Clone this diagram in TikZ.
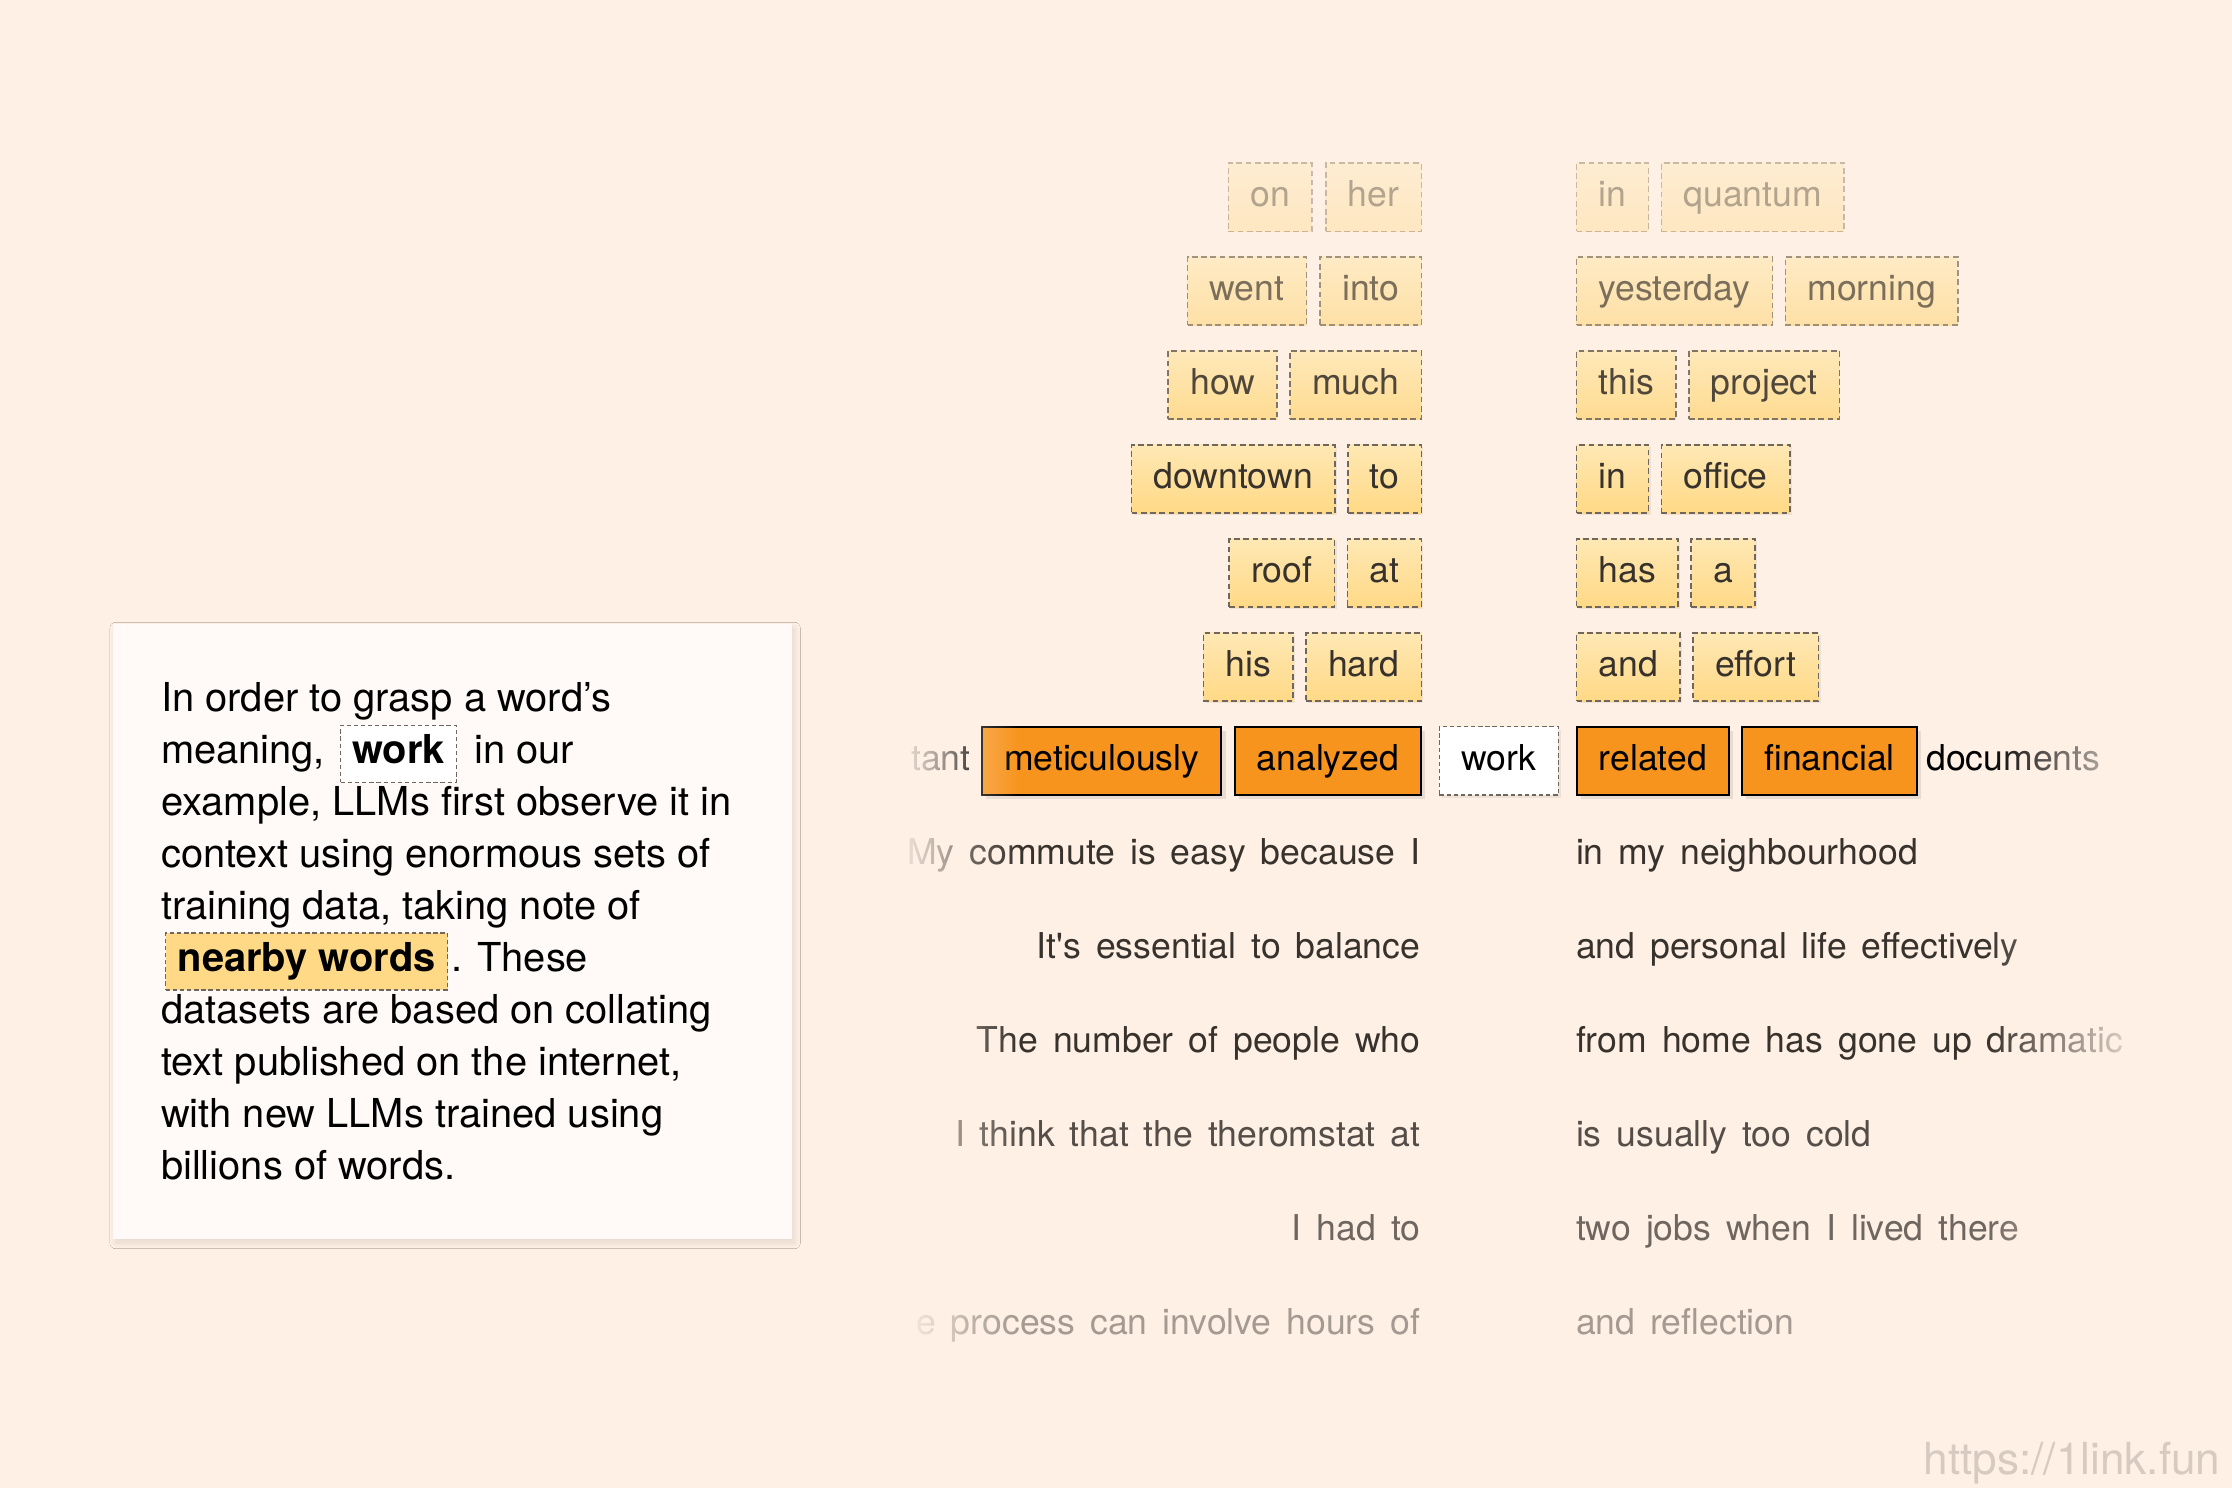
\documentclass[tikz,border=0pt]{standalone}
\usepackage{fontspec}
\setmainfont{TeX Gyre Heros}
\usetikzlibrary{shadows,shadows.blur,fadings}
\definecolor{bg}{HTML}{FEF0E5}
\definecolor{panel}{HTML}{FFFAF8}
\definecolor{ctxtop}{HTML}{FFE8B4}
\definecolor{ctxbot}{HTML}{FFD986}
\definecolor{ctxline}{HTML}{6F665E}
\definecolor{hot}{HTML}{F7941D}
\definecolor{ink}{HTML}{38322D}
\definecolor{wm}{HTML}{D6CAC1}
\newcommand\wideSpacing{\spaceskip=10.5pt plus 0pt minus 0pt\relax}
\tikzset{
  tbl/.style={font=\fontsize{25}{30}\selectfont},
  boxgeom/.style={tbl, inner xsep=15.5pt, inner ysep=0pt, text height=18pt, text depth=5pt, minimum height=48pt},
  ctxflat/.style={boxgeom, draw=ctxline, line width=1.1pt, dash pattern=on 4pt off 2.5pt,
    top color=ctxtop, bottom color=ctxbot, text=ink},
  ctxbox/.style={ctxflat, drop shadow={shadow xshift=1.5pt, shadow yshift=-1.5pt, opacity=0.12}},
  hotbox/.style={boxgeom, draw=black, line width=1.4pt, fill=hot, text=black,
    drop shadow={shadow xshift=3pt, shadow yshift=-3pt, opacity=0.18}},
  focusbox/.style={boxgeom, draw=ctxline, line width=1.1pt, dash pattern=on 3pt off 2pt, fill=white, text=black,
    drop shadow={shadow xshift=2pt, shadow yshift=-2pt, opacity=0.12}},
  plain/.style={tbl, text=black, inner sep=0pt},
  sent/.style={tbl, execute at begin node=\wideSpacing, text=ink, inner sep=0pt},
  ptxt/.style={font=\fontsize{28}{36.5}\selectfont, text=black, inner sep=0pt},
  workinl/.style={font=\fontsize{28}{36.5}\selectfont\bfseries, draw=ctxline, line width=0.9pt, dash pattern=on 3pt off 2pt,
    fill=white, inner xsep=8pt, inner ysep=7pt, text height=20pt, text depth=6pt},
  nearinl/.style={font=\fontsize{28}{36.5}\selectfont\bfseries, draw=ctxline, line width=0.9pt, dash pattern=on 3pt off 2pt,
    fill=ctxbot, inner xsep=0pt, inner ysep=7pt, text height=20pt, text depth=6pt, minimum width=198pt},
  panelbox/.style={fill=panel, inner sep=0pt,
    blur shadow={shadow blur steps=10, shadow xshift=2pt, shadow yshift=-3pt, shadow blur radius=4pt, shadow opacity=10}}
}
\begin{document}
\begin{tikzpicture}[x=1pt,y=-1pt]
\fill[bg] (0,0) rectangle (1568,1045.33);
\useasboundingbox (0,0) rectangle (1568,1045.33);

% ---------- text panel ----------
\node[panelbox, minimum width=477pt, minimum height=432pt, anchor=north west] (panel) at (79,438) {};
\node[ptxt, anchor=base west] (p1) at (113,500) {In order to grasp a word’s};
\node[ptxt, anchor=base west] (p2a) at (113,536.5) {meaning,};
\node[workinl, anchor=base west] (p2w) at (239,536.5) {work};
\node[ptxt, anchor=base west] (p2b) at (333,536.5) {in our};
\node[ptxt, anchor=base west] (p3) at (113,573) {example, LLMs first observe it in};
\node[ptxt, anchor=base west] (p4) at (113,609.5) {context using enormous sets of};
\node[ptxt, anchor=base west] (p5) at (113,646) {training data, taking note of};
\node[nearinl, anchor=base west] (p6w) at (116,682.5) {nearby words};
\node[ptxt, anchor=base west] (p6b) at (317,682.5) {. These};
\node[ptxt, anchor=base west] (p7) at (113,719) {datasets are based on collating};
\node[ptxt, anchor=base west] (p8) at (113,755.5) {text published on the internet,};
\node[ptxt, anchor=base west] (p9) at (113,792) {with new LLMs trained using};
\node[ptxt, anchor=base west] (p10) at (113,828.5) {billions of words.};

% ---------- context rows ----------
\begin{scope}[opacity=0.38]
\node[ctxflat, anchor=east] (l1b) at (999,138.5) {her};
\node[ctxflat, anchor=east] (l1a) at ([xshift=-8.5pt]l1b.west) {on};
\node[ctxflat, anchor=west] (r1a) at (1107,138.5) {in};
\node[ctxflat, anchor=west] (r1b) at ([xshift=8pt]r1a.east) {quantum};
\end{scope}
\begin{scope}[opacity=0.66]
\node[ctxflat, anchor=east] (l2b) at (999,204.5) {into};
\node[ctxflat, anchor=east] (l2a) at ([xshift=-8.5pt]l2b.west) {went};
\node[ctxflat, anchor=west] (r2a) at (1107,204.5) {yesterday};
\node[ctxflat, anchor=west] (r2b) at ([xshift=8pt]r2a.east) {morning};
\end{scope}
\begin{scope}[opacity=0.88]
\node[ctxflat, anchor=east] (l3b) at (999,270.5) {much};
\node[ctxflat, anchor=east] (l3a) at ([xshift=-8pt]l3b.west) {how};
\node[ctxflat, anchor=west] (r3a) at (1107,270.5) {this};
\node[ctxflat, anchor=west] (r3b) at ([xshift=8pt]r3a.east) {project};
\end{scope}
\node[ctxbox, anchor=east] (l4b) at (999,336.5) {to};
\node[ctxbox, anchor=east] (l4a) at ([xshift=-8pt]l4b.west) {downtown};
\node[ctxbox, anchor=west] (r4a) at (1107,336.5) {in};
\node[ctxbox, anchor=west] (r4b) at ([xshift=8pt]r4a.east) {office};
\node[ctxbox, anchor=east] (l5b) at (999,402.5) {at};
\node[ctxbox, anchor=east] (l5a) at ([xshift=-8pt]l5b.west) {roof};
\node[ctxbox, anchor=west] (r5a) at (1107,402.5) {has};
\node[ctxbox, anchor=west] (r5b) at ([xshift=8pt]r5a.east) {a};
\node[ctxbox, anchor=east] (l6b) at (999,468.5) {hard};
\node[ctxbox, anchor=east] (l6a) at ([xshift=-8pt]l6b.west) {his};
\node[ctxbox, anchor=west] (r6a) at (1107,468.5) {and};
\node[ctxbox, anchor=west] (r6b) at ([xshift=8pt]r6a.east) {effort};

% ---------- main row ----------
\node[hotbox, anchor=east] (m2) at (999,534.5) {analyzed};
\node[hotbox, anchor=east] (m1) at ([xshift=-8pt]m2.west) {meticulously};
\node[plain, anchor=base east] (m0) at (682,541.5) {tant};
\node[focusbox] (focus) at (1053,534.5) {work};
\node[hotbox, anchor=west] (m3) at (1107,534.5) {related};
\node[hotbox, anchor=west] (m4) at ([xshift=8pt]m3.east) {financial};
\node[plain, anchor=base west] (m5) at (1353,541.5) {documents};

% ---------- sentence rows ----------
\node[sent, anchor=base east] (s1l) at (998,607.5) {My commute is easy because I};
\node[sent, anchor=base west] (s1r) at (1107,607.5) {in my neighbourhood};
\node[sent, anchor=base east] (s2l) at (998,673.5) {It\textquotesingle s essential to balance};
\node[sent, anchor=base west] (s2r) at (1107,673.5) {and personal life effectively};
\node[sent, anchor=base east] (s3l) at (998,739.5) {The number of people who};
\node[sent, anchor=base west] (s3r) at (1107,739.5) {from home has gone up dramatic};
\begin{scope}[opacity=0.85]
\node[sent, anchor=base east] (s4l) at (998,805.5) {I think that the theromstat at};
\node[sent, anchor=base west] (s4r) at (1107,805.5) {is usually too cold};
\end{scope}
\begin{scope}[opacity=0.72]
\node[sent, anchor=base east] (s5l) at (998,871.5) {I had to};
\node[sent, anchor=base west] (s5r) at (1107,871.5) {two jobs when I lived there};
\end{scope}
\begin{scope}[opacity=0.45]
\node[sent, anchor=base east] (s6l) at (998,937.5) {e process can involve hours of};
\node[sent, anchor=base west] (s6r) at (1107,937.5) {and reflection};
\end{scope}

% ---------- horizontal fades (fading named after the transparent side) ----------
\fill[bg, path fading=east] (596,500) rectangle (716,965);
\fill[bg, path fading=east] (620,500) rectangle (680,965);
\fill[bg, path fading=west] (1395,500) rectangle (1515,965);
\fill[bg] (1514,500) rectangle (1568,965);

% ---------- watermark ----------
\node[font=\fontsize{31}{32}\selectfont, text=wm, inner sep=0pt, anchor=base east] (wmark) at (1560,1036) {https://1link.fun};
\end{tikzpicture}
\end{document}
